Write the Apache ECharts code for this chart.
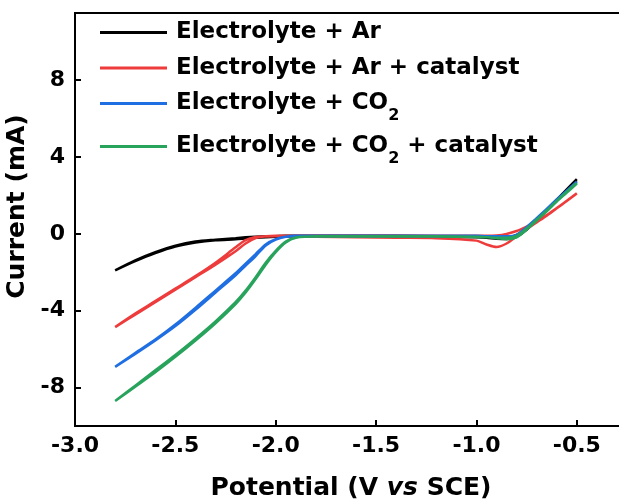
<!DOCTYPE html>
<html>
<head>
<meta charset="utf-8">
<script src="https://cdn.jsdelivr.net/npm/echarts@6/dist/echarts.min.js"></script>
<style>
html,body{margin:0;padding:0;background:#fff;}
#chart{width:619px;height:502px;}
</style>
</head>
<body>
<div id="chart"></div>
<script>
// Potential grid (V vs SCE), shared by both sweep branches
const potential = [-0.5,-0.55,-0.6,-0.65,-0.7,-0.75,-0.8,-0.85,-0.9,-0.95,-1.0,-1.2,-1.4,-1.6,-1.8,-1.9,-1.95,-2.0,-2.05,-2.1,-2.15,-2.2,-2.3,-2.4,-2.5,-2.6,-2.7,-2.8];

// Currents (mA), aligned with `potential`; fwd = cathodic sweep, rev = return sweep
const arFwd = [2.8,2.3,1.78,1.25,0.78,0.32,-0.05,-0.2,-0.2,-0.18,-0.15,-0.12,-0.1,-0.1,-0.1,-0.1,-0.1,-0.12,-0.13,-0.15,-0.18,-0.22,-0.3,-0.4,-0.62,-0.95,-1.38,-1.9];
const arRev = [2.85,2.32,1.78,1.22,0.7,0.22,-0.15,-0.27,-0.25,-0.2,-0.18,-0.15,-0.12,-0.12,-0.12,-0.13,-0.14,-0.15,-0.17,-0.2,-0.24,-0.28,-0.33,-0.45,-0.66,-1.0,-1.42,-1.9];

const arCatFwd = [2.1,1.72,1.35,0.98,0.65,0.38,0.15,0.0,-0.08,-0.1,-0.1,-0.1,-0.1,-0.1,-0.1,-0.1,-0.1,-0.1,-0.12,-0.22,-0.5,-0.9,-1.6,-2.25,-2.9,-3.55,-4.2,-4.85];
const arCatRev = [2.12,1.72,1.33,0.95,0.6,0.25,-0.12,-0.5,-0.68,-0.55,-0.35,-0.22,-0.2,-0.18,-0.15,-0.13,-0.12,-0.12,-0.13,-0.16,-0.32,-0.7,-1.5,-2.2,-2.85,-3.5,-4.15,-4.85];

const co2Fwd = [2.7,2.25,1.8,1.3,0.82,0.35,-0.05,-0.12,-0.12,-0.12,-0.1,-0.1,-0.1,-0.1,-0.1,-0.1,-0.15,-0.3,-0.6,-1.15,-1.65,-2.15,-3.05,-3.95,-4.8,-5.55,-6.25,-6.92];
const co2Rev = [2.72,2.25,1.78,1.28,0.8,0.3,-0.1,-0.18,-0.15,-0.13,-0.12,-0.12,-0.12,-0.12,-0.12,-0.12,-0.15,-0.28,-0.55,-1.05,-1.55,-2.05,-2.95,-3.85,-4.72,-5.5,-6.2,-6.92];

const co2CatFwd = [2.65,2.2,1.72,1.22,0.75,0.28,-0.1,-0.2,-0.2,-0.18,-0.15,-0.12,-0.12,-0.12,-0.12,-0.2,-0.45,-0.95,-1.6,-2.35,-3.05,-3.65,-4.65,-5.55,-6.4,-7.2,-7.95,-8.7];
const co2CatRev = [2.62,2.15,1.68,1.18,0.7,0.22,-0.18,-0.28,-0.22,-0.18,-0.16,-0.14,-0.13,-0.13,-0.13,-0.18,-0.4,-0.88,-1.5,-2.25,-2.95,-3.55,-4.55,-5.45,-6.3,-7.1,-7.9,-8.7];

const seriesNames = ['Electrolyte + Ar','Electrolyte + Ar + catalyst','Electrolyte + CO2','Electrolyte + CO2 + catalyst'];
const xTicks = [-3.0,-2.5,-2.0,-1.5,-1.0,-0.5];
const yTicks = [-8,-4,0,4,8];

function loop(fwd, rev){
  const out = [];
  for (let i = 0; i < potential.length; i++) out.push([potential[i], fwd[i]]);
  for (let i = potential.length - 2; i >= 0; i--) out.push([potential[i], rev[i]]);
  return out;
}

const colors = ['#000000','#ee3b3b','#1f6fe3','#27a35c'];
const curves = [loop(arFwd,arRev), loop(arCatFwd,arCatRev), loop(co2Fwd,co2Rev), loop(co2CatFwd,co2CatRev)];

const FONT = 'DejaVu Sans';
const legendCenters = [32.5, 68, 103.5, 146.5];
const LH = 40;

const legends = seriesNames.map((n, i) => ({
  data: [n],
  left: 100,
  top: legendCenters[i] - LH/2,
  padding: 0,
  icon: 'rect',
  itemWidth: 67,
  itemHeight: 3,
  selectedMode: false,
  formatter: s => s.replace('CO2', 'CO{sub|2}'),
  textStyle: {
    fontFamily: FONT, fontWeight: 'bold', fontSize: 23, color: '#000',
    lineHeight: LH, padding: [0,0,0,4],
    rich: { sub: { fontFamily: FONT, fontWeight: 'bold', fontSize: 16, lineHeight: 16, verticalAlign: 'bottom', color: '#000' } }
  }
}));

const chart = echarts.init(document.getElementById('chart'), null, {renderer: 'canvas'});
chart.setOption({
  animation: false,
  backgroundColor: '#fff',
  grid: { left: 75, top: 13, right: -8, bottom: 76, show: true, borderColor: '#000', borderWidth: 2, outerBoundsMode: 'none', containLabel: false },
  legend: legends,
  xAxis: {
    type: 'value', min: -3.0, max: -0.25,
    name: 'Potential (V {i|vs} SCE)', nameLocation: 'middle', nameGap: 50,
    nameTextStyle: { fontFamily: FONT, fontWeight: 'bold', fontSize: 25, color: '#000',
      rich: { i: { fontFamily: FONT, fontWeight: 'bold', fontStyle: 'italic', fontSize: 25, color: '#000' } } },
    axisLine: { show: true, onZero: false, lineStyle: { color: '#000', width: 2 } },
    axisTick: { show: true, inside: true, length: 6, customValues: xTicks, lineStyle: { color: '#000', width: 2 } },
    axisLabel: { customValues: xTicks, margin: 9, fontFamily: FONT, fontWeight: 'bold', fontSize: 22, color: '#000', formatter: v => v.toFixed(1) },
    splitLine: { show: false }
  },
  yAxis: {
    type: 'value', min: -10, max: 11.5,
    name: 'Current (mA)', nameLocation: 'middle', nameGap: 40,
    nameTextStyle: { fontFamily: FONT, fontWeight: 'bold', fontSize: 25, color: '#000', padding: [0,0,0,26] },
    axisLine: { show: true, onZero: false, lineStyle: { color: '#000', width: 2 } },
    axisTick: { show: true, inside: true, length: 6, customValues: yTicks, lineStyle: { color: '#000', width: 2 } },
    axisLabel: { customValues: yTicks, margin: 10, fontFamily: FONT, fontWeight: 'bold', fontSize: 22, color: '#000' },
    splitLine: { show: false }
  },
  series: seriesNames.map((n, i) => ({
    name: n, type: 'line', data: curves[i], showSymbol: false, symbol: 'none',
    smooth: 0.3, color: colors[i], lineStyle: { width: 2.5, color: colors[i] }
  }))
});
</script>
</body>
</html>
